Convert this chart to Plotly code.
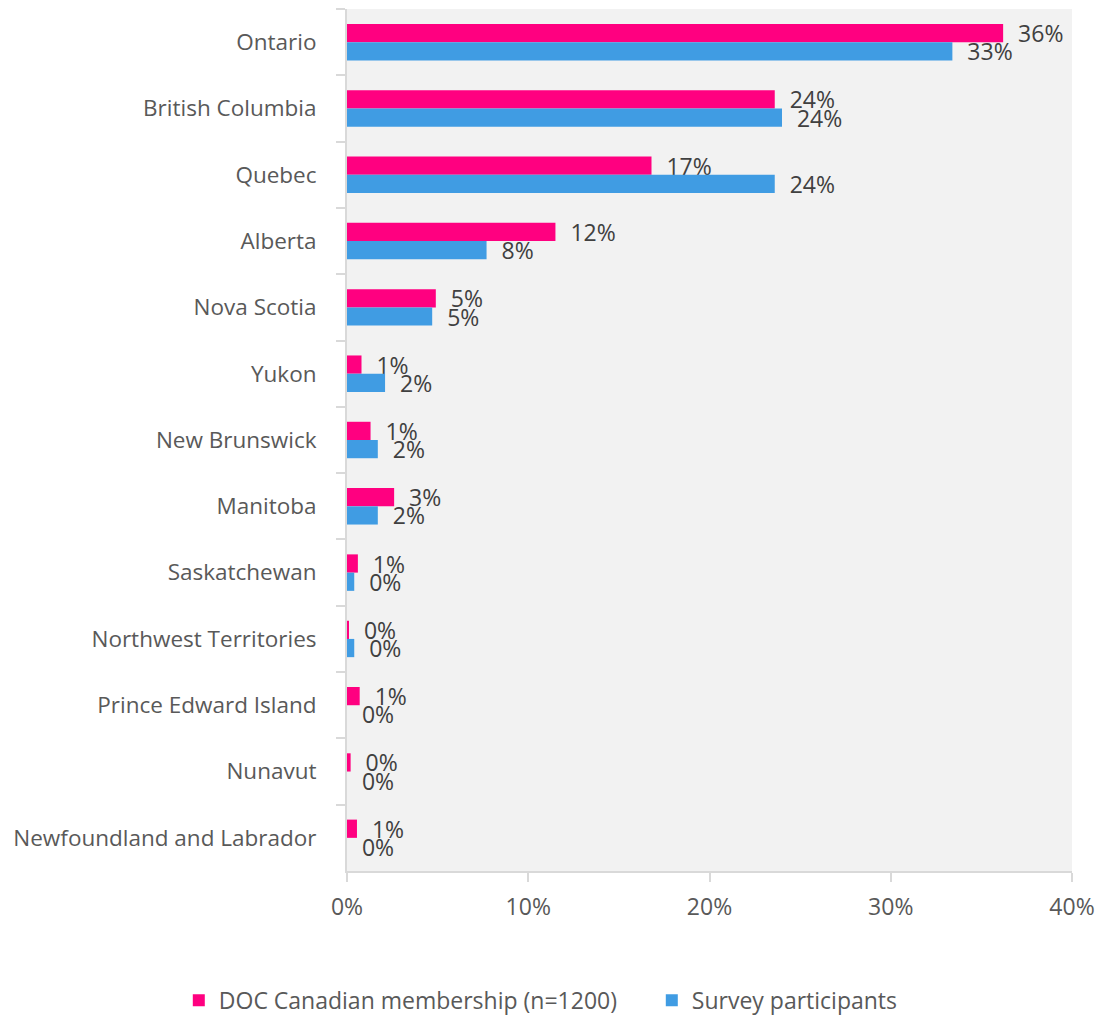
import plotly.graph_objects as go

provinces = ["Ontario", "British Columbia", "Quebec", "Alberta", "Nova Scotia", "Yukon",
             "New Brunswick", "Manitoba", "Saskatchewan", "Northwest Territories",
             "Prince Edward Island", "Nunavut", "Newfoundland and Labrador"]
membership = [36.2, 23.6, 16.8, 11.5, 4.9, 0.8, 1.3, 2.6, 0.6, 0.1, 0.7, 0.2, 0.55]
participants = [33.4, 24.0, 23.6, 7.7, 4.7, 2.1, 1.7, 1.7, 0.4, 0.4, 0.0, 0.0, 0.0]
series_names = ["DOC Canadian membership (n=1200)", "Survey participants"]
colors = ["#FF0080", "#409CE3"]
x_ticks = [0, 10, 20, 30, 40]
x_tick_labels = ["0%", "10%", "20%", "30%", "40%"]

FONT = "Open Sans"
FS = 23
pad = "\u00a0" * 2

fig = go.Figure()
for name, vals, col in zip(series_names, [membership, participants], colors):
    fig.add_trace(go.Bar(
        y=provinces, x=vals, name=name, orientation="h",
        marker=dict(color=col, line=dict(width=0)),
        texttemplate=pad + "%{x:.0f}%", textposition="outside",
        constraintext="none", cliponaxis=False,
        textfont=dict(family=FONT, size=FS, color="#404040"),
    ))

fig.update_layout(
    width=1104, height=1017,
    margin=dict(l=339, r=40, t=1, b=154, autoexpand=False),
    barmode="group", bargap=0.45, bargroupgap=0,
    plot_bgcolor="#F2F2F2", paper_bgcolor="white",
    font=dict(family=FONT, size=FS, color="#595959"),
    legend=dict(orientation="h", x=-0.232, xanchor="left", y=-0.15, yanchor="middle",
                font=dict(family=FONT, size=FS, color="#595959"),
                entrywidth=428, entrywidthmode="pixels",
                traceorder="normal"),
    showlegend=True,
)
fig.update_yaxes(
    autorange="reversed", showline=True, linecolor="#D9D9D9", linewidth=2,
    ticks="outside", tickson="boundaries", ticklen=9, tickcolor="#D9D9D9", tickwidth=2,
    ticklabelstandoff=24, showgrid=False, zeroline=False,
    tickfont=dict(family=FONT, size=22.5, color="#595959"),
)
fig.update_xaxes(
    range=[0, 40], tickvals=x_ticks, ticktext=x_tick_labels,
    showline=True, linecolor="#D9D9D9", linewidth=2,
    ticks="outside", ticklen=9, tickcolor="#D9D9D9", tickwidth=2,
    ticklabelstandoff=5, showgrid=False, zeroline=False,
    tickfont=dict(family=FONT, size=FS, color="#595959"),
)

fig.write_html("out.html")
